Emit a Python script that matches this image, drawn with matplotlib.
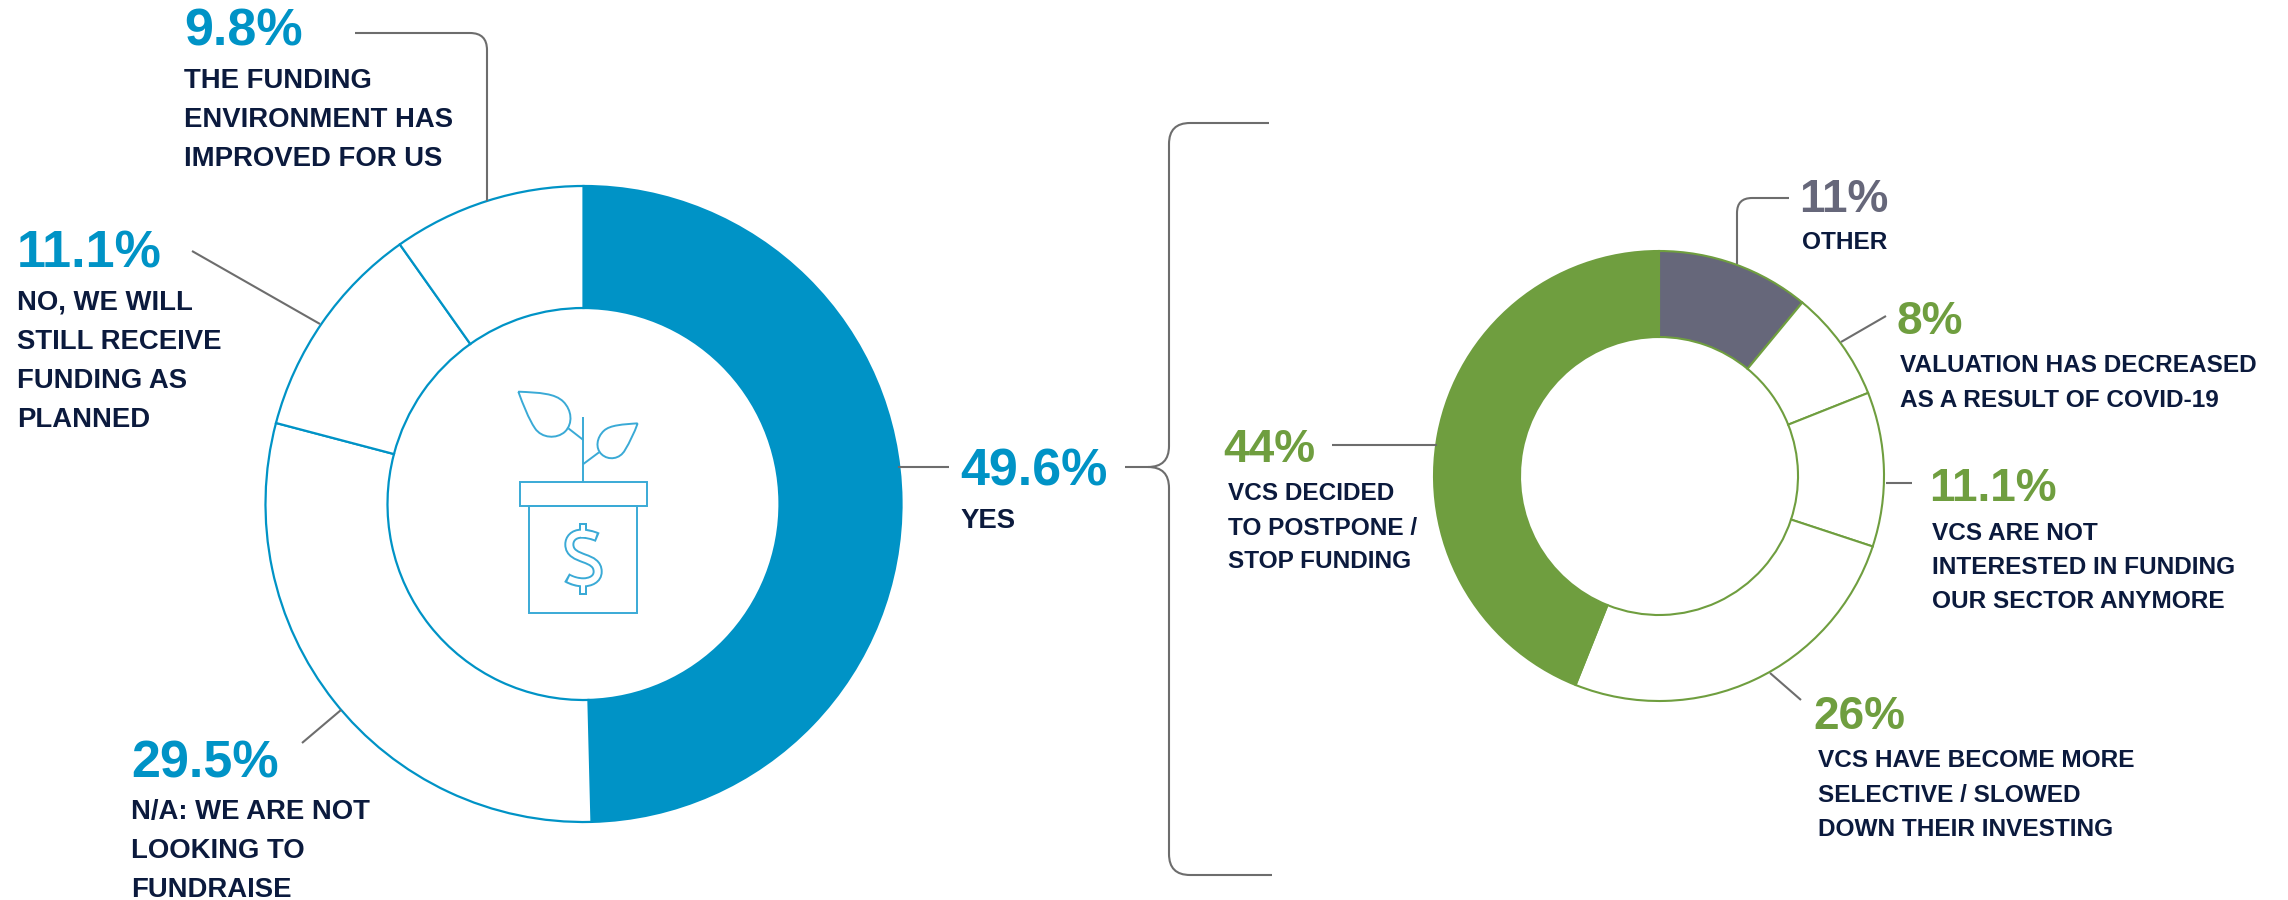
import matplotlib
matplotlib.use("Agg")
import matplotlib.pyplot as plt
from matplotlib.path import Path
from matplotlib.patches import PathPatch, Rectangle

# Did funding change? outer question
main_labels = [
    ["YES"],
    ["N/A: WE ARE NOT", "LOOKING TO", "FUNDRAISE"],
    ["NO, WE WILL", "STILL RECEIVE", "FUNDING AS", "PLANNED"],
    ["THE FUNDING", "ENVIRONMENT HAS", "IMPROVED FOR US"],
]
main_values = [49.6, 29.5, 11.1, 9.8]

# Breakdown of the YES answers
detail_labels = [
    ["OTHER"],
    ["VALUATION HAS DECREASED", "AS A RESULT OF COVID-19"],
    ["VCS ARE NOT", "INTERESTED IN FUNDING", "OUR SECTOR ANYMORE"],
    ["VCS HAVE BECOME MORE", "SELECTIVE / SLOWED", "DOWN THEIR INVESTING"],
    ["VCS DECIDED", "TO POSTPONE /", "STOP FUNDING"],
]
detail_values = [11, 8, 11.1, 26, 44]

BLUE = "#0093c6"
GREEN = "#6f9e3f"
SLATE = "#66677a"
NAVY = "#0b1a3d"
GREY = "#6d6d6d"
ICON = "#3aaad6"
FONT = "Liberation Sans"

W, H = 2288, 900
fig = plt.figure(figsize=(W / 100, H / 100), dpi=100, facecolor="white")
ax = fig.add_axes([0, 0, 1, 1])


def fy(y):
    # everything below is laid out in pixels from the top left corner
    return H - y


def donut(values, cx, cy, r_out, r_in, edge, fills, lw):
    wedges, _ = ax.pie(values, center=(cx, fy(cy)), radius=r_out, startangle=90,
                       counterclock=False, wedgeprops=dict(width=r_out - r_in, linewidth=lw))
    for w, fill in zip(wedges, fills):
        w.set_facecolor(fill)
        w.set_edgecolor(edge)


donut(main_values, 583.5, 504, 318, 196, BLUE, [BLUE, "white", "white", "white"], 1.6)
donut(detail_values, 1659, 476, 225, 139, GREEN, [SLATE, "white", "white", "white", GREEN], 1.5)
ax.set_xlim(0, W)
ax.set_ylim(0, H)
ax.set_aspect("auto")
ax.axis("off")


def leader(points, lw=1.5):
    ax.plot([p[0] for p in points], [fy(p[1]) for p in points], color=GREY, lw=lw,
            solid_capstyle="butt", zorder=3)


def curved(verts, codes, color=GREY, lw=1.5, zorder=3):
    verts = [(x, fy(y)) for x, y in verts]
    ax.add_patch(PathPatch(Path(verts, codes), fc="none", ec=color, lw=lw, zorder=zorder,
                           capstyle="butt"))


M, L, Q = Path.MOVETO, Path.LINETO, Path.CURVE3
C = Path.CURVE4

# leaders
curved([(355, 33), (470, 33), (487, 33), (487, 50), (487, 201)], [M, L, Q, Q, L])
leader([(192, 251), (320, 324)])
leader([(341, 710), (302, 743)])
leader([(898, 467), (949, 467)])
leader([(1332, 445), (1437, 445)])
curved([(1789, 198), (1752, 198), (1737, 198), (1737, 213), (1737, 264)], [M, L, Q, Q, L])
leader([(1886, 316), (1841, 342)])
leader([(1886, 483), (1912, 483)])
leader([(1770, 673), (1801, 700)])

# bracket joining the YES slice to the breakdown
curved([(1269, 123), (1190, 123), (1169, 123), (1169, 144), (1169, 446),
        (1169, 467), (1148, 467), (1125, 467)],
       [M, L, Q, Q, L, Q, Q, L])
curved([(1148, 467), (1169, 467), (1169, 488), (1169, 854), (1169, 875), (1190, 875), (1272, 875)],
       [M, Q, Q, L, Q, Q, L])


def label(x, y_value, value, color, size, lines, x_text, baselines, text_size):
    ax.text(x, fy(y_value), f"{value}%", color=color, fontsize=size, fontweight="bold",
            family=FONT, ha="left", va="baseline")
    for line, b in zip(lines, baselines):
        ax.text(x_text, fy(b), line, color=NAVY, fontsize=text_size, fontweight="bold",
                family=FONT, ha="left", va="baseline")


label(960, 485, main_values[0], BLUE, 37.5, main_labels[0], 960, [528], 19.8)
label(131, 777, main_values[1], BLUE, 37.5, main_labels[1], 131, [819, 858, 897], 19.8)
label(17, 267, main_values[2], BLUE, 37.5, main_labels[2], 17, [309, 349, 388, 427], 19.8)
label(184, 45, main_values[3], BLUE, 37.5, main_labels[3], 184, [88, 127, 166], 19.8)

label(1799, 212, detail_values[0], SLATE, 33, detail_labels[0], 1802, [249], 17.6)
label(1896, 334, detail_values[1], GREEN, 33, detail_labels[1], 1900, [372, 407], 17.6)
label(1929, 501, detail_values[2], GREEN, 33, detail_labels[2], 1932, [540, 574, 608], 17.6)
label(1813, 729, detail_values[3], GREEN, 33, detail_labels[3], 1818, [767, 802, 836], 17.6)
label(1223, 462, detail_values[4], GREEN, 33, detail_labels[4], 1228, [500, 535, 568], 17.6)


# plant in a pot, centre of the big ring
def ix(v):
    return 440 + v / 3


def iy(v):
    return 340 + v / 3


def icon_path(points, codes, color=ICON, lw=1.4, zorder=4):
    curved([(ix(a), iy(b)) for a, b in points], codes, color=color, lw=lw, zorder=zorder)


ax.add_patch(Rectangle((ix(240), fy(iy(497))), 380 / 3, 70 / 3, fc="none", ec=ICON, lw=1.4, zorder=4))
ax.add_patch(Rectangle((ix(268), fy(iy(818))), 324 / 3, 321 / 3, fc="none", ec=ICON, lw=1.4, zorder=4))
icon_path([(430, 232), (430, 427)], [M, L])
icon_path([(430, 300), (385, 265)], [M, L])
icon_path([(430, 372), (477, 337)], [M, L])
icon_path([(235, 155), (300, 158), (345, 160), (370, 185), (395, 210), (400, 250), (375, 275),
           (350, 298), (305, 295), (285, 265), (265, 235), (250, 195), (235, 155)],
          [M] + [C] * 12)
icon_path([(593, 250), (550, 253), (510, 255), (492, 272), (470, 292), (465, 325), (485, 343),
           (505, 362), (540, 358), (555, 330), (570, 305), (582, 280), (593, 250)],
          [M] + [C] * 12)

# outlined dollar sign: thick strokes first, thinner white ones over them leave the outline
s_body = [(425, 581), (400, 581), (388, 597), (388, 613), (388, 640), (412, 647), (432, 655),
          (455, 663), (473, 672), (473, 695), (473, 718), (450, 727), (430, 727)]
s_outer = [(473, 592), (455, 584), (438, 581)] + s_body + [(412, 727), (395, 722), (380, 713)]
s_inner = [(467, 589.5), (452, 584), (438, 581)] + s_body + [(415, 727), (400, 723), (386, 716)]
s_codes = [M, C, C] + [C] * 13 + [C, C, C]
for top, bottom, colour in [(548, 590, ICON), (554, 590, "white")]:
    for y0, y1 in [(top, bottom), (1313 - bottom, 1313 - top)]:
        pad = 11.5 if colour == ICON else 5.5
        ax.add_patch(Rectangle((ix(429.5 - pad), fy(iy(y1))), 2 * pad / 3, (y1 - y0) / 3,
                               fc=colour, ec="none", zorder=5 if colour == ICON else 7))
icon_path(s_outer, s_codes, lw=7.2, zorder=5)
icon_path(s_inner, s_codes, color="white", lw=4.4, zorder=7)

fig.savefig("out.png", dpi=100, facecolor="white")
